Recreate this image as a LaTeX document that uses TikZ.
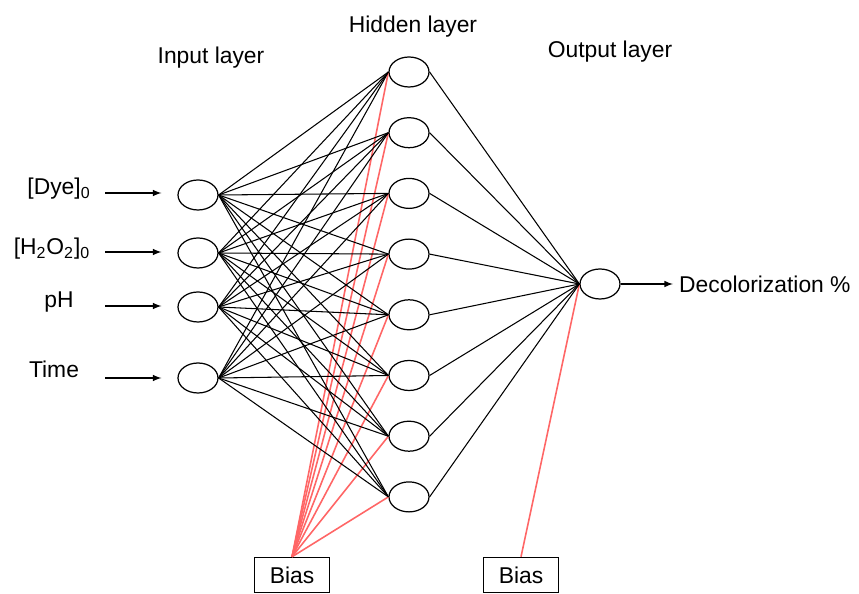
\documentclass[tikz,border=0pt]{standalone}
\usepackage{fontspec}
\setmainfont{Liberation Sans}
\usepackage{xcolor}
\usepackage{tikz}
\usetikzlibrary{arrows,shapes,calc}
\tikzstyle{neuron}=[draw, ellipse, minimum width=0.8cm, minimum height=0.6cm,
  inner sep=0pt, line width=0.7pt]
\tikzstyle{biasbox}=[draw, minimum width=1.5cm, minimum height=0.7cm,
  inner sep=0pt, line width=0.8pt]
\tikzstyle{weight}=[black, line width=0.6pt]
\tikzstyle{biasline}=[red!60, line width=0.9pt]
\tikzstyle{feed}=[-latex, line width=0.7pt]

\begin{document}
\begin{tikzpicture}[x=0.02cm, y=-0.02cm, font=\fontsize{13}{15}\selectfont]
  \useasboundingbox (0,0) rectangle (859,594);

  \node(inlabel)[anchor=base] at (211,64) {Input layer};
  \node(hidlabel)[anchor=base] at (413,33) {Hidden layer};
  \node(outlabel)[anchor=base] at (610,58) {Output layer};

  \foreach \i/\y in {1/195,2/253,3/307,4/378}
    \node(in\i)[neuron] at (198,\y) {};
  \foreach \j in {1,...,8}
    \node(hid\j)[neuron] at (409,{72+60.7*(\j-1)}) {};
  \node(out)[neuron] at (600,284) {};

  \node(bias1)[biasbox] at (292,575) {Bias};
  \node(bias2)[biasbox] at (521,575) {Bias};

  \foreach \j in {1,...,8}
    \draw[biasline] (bias1.north) -- (hid\j.west);
  \draw[biasline] (bias2.north) -- (out.west);

  \foreach \i in {1,...,4}
    \foreach \j in {1,...,8}
      \draw[weight] (in\i.east) -- (hid\j.west);
  \foreach \j in {1,...,8}
    \draw[weight] (hid\j.east) -- (out.west);

  \node(dye)[anchor=base] at (59,195) {[Dye]\textsubscript{0}};
  \node(hyd)[anchor=base] at (52,255) {[H\textsubscript{2}O\textsubscript{2}]\textsubscript{0}};
  \node(ph)[anchor=base] at (59,308) {pH};
  \node(time)[anchor=base] at (54,378) {Time};

  \foreach \i/\y in {1/193,2/252,3/306,4/378}
    \coordinate(src\i) at (105,\y);
  \foreach \i/\y in {1/193,2/252,3/306,4/378}
    \draw[feed, shorten >=0.32cm] (src\i) -- (in\i.west |- src\i);

  \node(result)[anchor=west] at (673,284) {Decolorization \%};
  \draw[feed] (out.east) -- (result.west);
\end{tikzpicture}
\end{document}
